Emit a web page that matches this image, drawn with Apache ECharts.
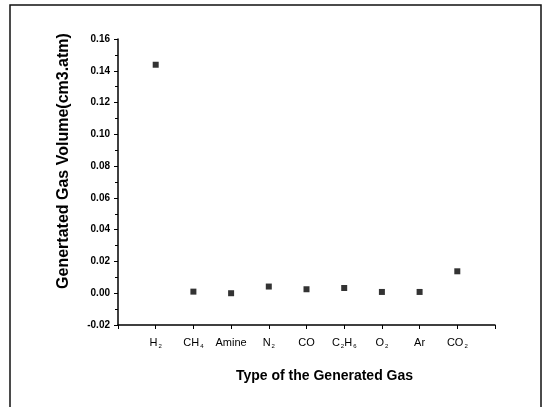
<!DOCTYPE html>
<html>
<head>
<meta charset="utf-8">
<script src="https://cdn.jsdelivr.net/npm/echarts@6/dist/echarts.min.js"></script>
<style>
  html, body { margin: 0; padding: 0; background: #fff; }
  #chart { width: 543px; height: 407px; }
</style>
</head>
<body>
<div id="chart"></div>
<script>
// gas types (rich-text keys so subscripts can be drawn)
const categories = ['{b|H}{s|2}', '{b|CH}{s|4}', '{b|Amine}', '{b|N}{s|2}', '{b|CO}',
                    '{b|C}{s|2}{b|H}{s|6}', '{b|O}{s|2}', '{b|Ar}', '{b|CO}{s|2}'];
const gasVolume = [0.1438, 0.0010, 0.0000, 0.0042, 0.0025, 0.0033, 0.0008, 0.0008, 0.0138];
const yTicks = [-0.02, 0.16, 0.02]; // min, max, step

const chart = echarts.init(document.getElementById('chart'));

const points = gasVolume.map((v, i) => [i + 1, v]);

const option = {
    animation: false,
    backgroundColor: '#fff',
    grid: { left: 118, right: 48, top: 39, bottom: 82 },
    graphic: [{
        type: 'rect',
        shape: { x: 10, y: 5, width: 531, height: 420 },
        style: { fill: 'none', stroke: '#111', lineWidth: 1.5 },
        silent: true
    }],
    xAxis: {
        type: 'value',
        min: 0,
        max: 10,
        interval: 1,
        name: 'Type of the Generated Gas',
        nameLocation: 'middle',
        nameGap: 44,
        nameTextStyle: { fontFamily: 'Liberation Sans', fontWeight: 'bold', fontSize: 14, color: '#000', padding: [0, 0, 0, 36] },
        axisLine: { onZero: false, lineStyle: { color: '#000', width: 1.5 } },
        axisTick: { inside: false, length: 4, lineStyle: { color: '#000', width: 1 } },
        splitLine: { show: false },
        axisLabel: {
            margin: 12,
            formatter: function(v) {
                const idx = Math.round(v) - 1;
                return (idx >= 0 && idx < categories.length) ? categories[idx] : '';
            },
            rich: {
                b: { fontFamily: 'Liberation Sans', fontSize: 11, color: '#000' },
                s: { fontFamily: 'Liberation Sans', fontSize: 6, color: '#000', verticalAlign: 'bottom', padding: [6, 0, 0, 1] }
            }
        }
    },
    yAxis: {
        type: 'value',
        min: yTicks[0],
        max: yTicks[1],
        interval: yTicks[2],
        name: 'Genertated Gas Volume(cm3.atm)',
        nameLocation: 'middle',
        nameGap: 46,
        nameTextStyle: { fontFamily: 'Liberation Sans', fontWeight: 'bold', fontSize: 16, color: '#000', padding: [0, 0, 0, 42] },
        axisLine: { show: true, onZero: false, lineStyle: { color: '#000', width: 1.5 } },
        axisTick: { show: true, inside: false, length: 4, lineStyle: { color: '#000' } },
        minorTick: { show: true, splitNumber: 2, length: 3, lineStyle: { color: '#000' } },
        splitLine: { show: false },
        axisLabel: {
            margin: 8,
            fontFamily: 'Liberation Sans',
            fontSize: 10,
            fontWeight: 'bold',
            color: '#000',
            formatter: v => v.toFixed(2)
        }
    },
    series: [{
        type: 'scatter',
        symbol: 'rect',
        symbolSize: 6,
        itemStyle: { color: '#000' },
        data: points
    }]
};

chart.setOption(option);
</script>
</body>
</html>
